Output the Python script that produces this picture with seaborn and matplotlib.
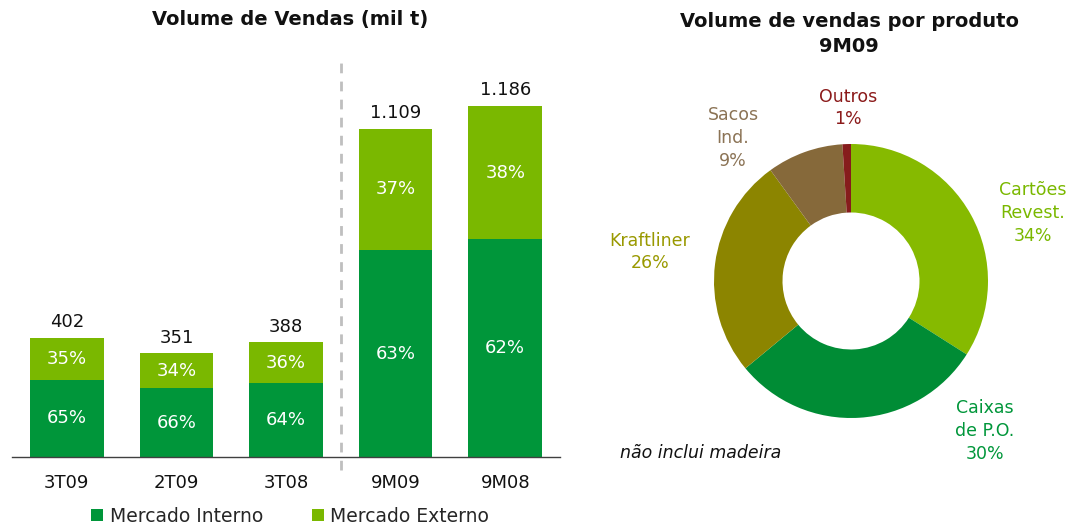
import numpy as np
import pandas as pd
import matplotlib
matplotlib.use("Agg")
import matplotlib.pyplot as plt
import seaborn as sns
from matplotlib.patches import Patch

# ---------------- data ----------------
periods = ["3T09", "2T09", "3T08", "9M09", "9M08"]
totals = [402, 351, 388, 1109, 1186]
total_labels = ["402", "351", "388", "1.109", "1.186"]
share_interno = [65, 66, 64, 63, 62]
share_externo = [35, 34, 36, 37, 38]
series_names = ["Mercado Interno", "Mercado Externo"]

products = ["Cartões\nRevest.", "Caixas\nde P.O.", "Kraftliner", "Sacos\nInd.", "Outros"]
product_share = [34, 30, 26, 9, 1]

# ---------------- style ----------------
sns.set_theme(style="white")
plt.rcParams["font.family"] = ["DejaVu Sans"]

W, H = 1067, 527
fig = plt.figure(figsize=(W / 100, H / 100), dpi=100)

def fx(px):
    return px / W

def fy(py):
    return 1 - py / H

C_INT = "#00963A"
C_EXT = "#7AB800"

# ---------------- bar chart ----------------
ax = fig.add_axes([fx(12), 70 / H, 548 / W, 397 / H])
df = pd.DataFrame({"period": periods, "total": totals,
                   "interno": [t * s / 100 for t, s in zip(totals, share_interno)]})
sns.barplot(data=df, x="period", y="total", color=C_EXT, width=0.67,
            saturation=1, ax=ax, edgecolor="none")
sns.barplot(data=df, x="period", y="interno", color=C_INT, width=0.67,
            saturation=1, ax=ax, edgecolor="none")
ax.set_ylim(0, 1341)
ax.set_xlim(-0.5, 4.5)
for s in ["top", "right", "left"]:
    ax.spines[s].set_visible(False)
ax.spines["bottom"].set_color("#404040")
ax.spines["bottom"].set_linewidth(1.0)
ax.set_yticks([])
ax.set_xlabel("")
ax.set_ylabel("")
ax.set_xticks(range(len(periods)))
ax.set_xticklabels(periods, fontsize=13, color="#111111")
ax.tick_params(axis="x", which="major", length=0, pad=12)
ax.set_xticks([i - 0.5 for i in range(len(periods) + 1)], minor=True)
ax.tick_params(axis="x", which="minor", length=5, width=1, color="#404040", direction="out")

for i, (t, lab, si, se) in enumerate(zip(totals, total_labels, share_interno, share_externo)):
    ti = t * si / 100
    ax.text(i, t + 22, lab, ha="center", va="bottom", fontsize=13, color="#111111")
    ax.text(i, ti / 2, f"{si}%", ha="center", va="center", fontsize=13, color="white")
    ax.text(i, ti + (t - ti) / 2, f"{se}%", ha="center", va="center", fontsize=13, color="white")

ax.plot([2.5, 2.5], [-44, 1350], color="#BFBFBF", lw=2, ls=(0, (3.5, 3)), clip_on=False, zorder=0)

fig.text(fx(290), fy(20), "Volume de Vendas (mil t)", ha="center", va="center",
         fontsize=14, fontweight="bold", color="#111111")

# legend
handles = [Patch(facecolor=C_INT, edgecolor="none"), Patch(facecolor=C_EXT, edgecolor="none")]
fig.legend(handles, series_names, loc="center", bbox_to_anchor=(fx(290), fy(516)),
           ncol=2, frameon=False, fontsize=13.5, handlelength=0.65, handleheight=0.65,
           handletextpad=0.35, columnspacing=2.6, borderaxespad=0, borderpad=0)

# ---------------- donut ----------------
R = 137
cx, cy = 851, 281
ax2 = fig.add_axes([fx(cx - R), (H - cy - R) / H, 2 * R / W, 2 * R / H])
pie_colors = ["#86BA00", "#008C35", "#8C8500", "#86693A", "#861C1C"]
ax2.pie(product_share, colors=pie_colors, startangle=90, counterclock=False,
        radius=1, wedgeprops=dict(width=0.5, edgecolor="none"))
ax2.set_xlim(-1, 1)
ax2.set_ylim(-1, 1)
ax2.set_aspect("auto")
ax2.axis("off")

fig.text(fx(849), fy(34), "Volume de vendas por produto\n9M09", ha="center", va="center",
         fontsize=14, fontweight="bold", color="#111111", linespacing=1.45)

label_colors = ["#7AB800", "#00963A", "#999900", "#8B7355", "#8B1A1A"]
label_pos = [(1033, 213), (985, 431), (650, 252), (733, 138), (848, 108)]
for name, sh, col, (lx, ly) in zip(products, product_share, label_colors, label_pos):
    fig.text(fx(lx), fy(ly), f"{name}\n{sh}%", ha="center", va="center", fontsize=12.5,
             color=col, linespacing=1.35)

fig.text(fx(620), fy(453), "não inclui madeira", ha="left", va="center", fontsize=12.5,
         style="italic", color="#111111")

fig.savefig("out.png", dpi=100)
